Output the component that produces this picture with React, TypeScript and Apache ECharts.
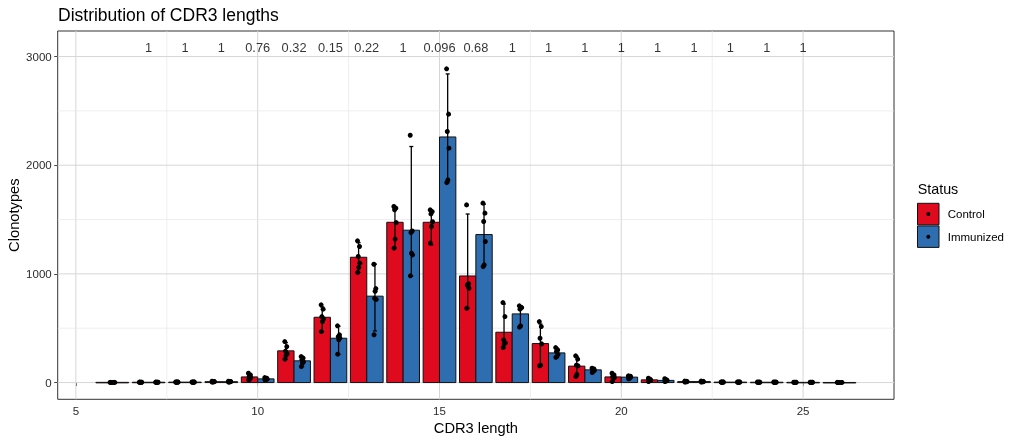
import React, { useEffect, useRef } from "react";
import * as echarts from "echarts";

// ---- data ----
const lengths = [6, 7, 8, 9, 10, 11, 12, 13, 14, 15, 16, 17, 18, 19, 20, 21, 22, 23, 24, 25, 26];
const controlMean: (number | null)[] = [2, 3, 4, 8, 52, 292, 601, 1153, 1475, 1475, 981, 463, 359, 151, 52, 25, 9, 4, 3, 2, null];
const immunizedMean: (number | null)[] = [null, 3, 4, 8, 34, 200, 408, 795, 1402, 2260, 1362, 632, 273, 117, 50, 20, 9, 4, 3, 2, 1];
const controlErrLow: (number | null)[] = [1, 2, 2, 4, 25, 215, 469, 1013, 1240, 1267, 686, 322, 154, 55, 9, 9, 5, 2, 1, 1, null];
const controlErrHigh: (number | null)[] = [3, 4, 5, 11, 80, 367, 696, 1288, 1615, 1575, 1551, 723, 539, 241, 82, 37, 12, 6, 4, 3, null];
const immunizedErrLow: (number | null)[] = [null, 2, 2, 4, 24, 147, 261, 475, 980, 1840, 1067, 510, 232, 92, 35, 10, 5, 2, 1, 1, 0];
const immunizedErrHigh: (number | null)[] = [null, 4, 5, 11, 44, 240, 518, 1090, 2172, 2840, 1642, 702, 318, 132, 60, 25, 12, 6, 4, 3, 2];
const controlPts: number[][] = [
  [2, 2, 1, 1, 1, 1],
  [4, 3, 3, 3, 2, 2],
  [6, 5, 4, 4, 3, 2],
  [12, 10, 8, 8, 6, 4],
  [86, 70, 55, 45, 30, 25],
  [377, 331, 290, 265, 250, 215],
  [715, 675, 607, 586, 562, 469],
  [1304, 1252, 1160, 1099, 1059, 1013],
  [1620, 1605, 1590, 1472, 1320, 1237],
  [1589, 1573, 1552, 1480, 1436, 1283],
  [1635, 910, 898, 868, 890, 684],
  [736, 607, 393, 365, 356, 322],
  [561, 515, 408, 356, 160, 154],
  [246, 215, 160, 154, 76, 55],
  [86, 70, 55, 46, 40, 9],
  [40, 30, 25, 20, 20, 9],
  [14, 11, 9, 8, 7, 5],
  [6, 5, 4, 4, 3, 2],
  [5, 4, 3, 3, 2, 1],
  [3, 3, 2, 2, 1, 1],
  [],
];
const immunizedPts: number[][] = [
  [],
  [4, 3, 3, 3, 2, 2],
  [6, 5, 4, 4, 3, 2],
  [12, 10, 8, 8, 6, 4],
  [46, 40, 35, 31, 28, 24],
  [239, 225, 209, 190, 178, 147],
  [522, 439, 423, 410, 393, 261],
  [1089, 865, 775, 765, 840, 440],
  [2276, 1395, 1380, 1175, 1190, 982],
  [2887, 2470, 2310, 2157, 1865, 1840],
  [1651, 1559, 1482, 1298, 1083, 1067],
  [706, 690, 675, 690, 522, 510],
  [322, 300, 285, 260, 239, 232],
  [132, 125, 118, 110, 115, 92],
  [62, 58, 55, 50, 40, 35],
  [35, 25, 20, 18, 15, 10],
  [14, 11, 9, 8, 7, 5],
  [6, 5, 4, 4, 3, 2],
  [5, 4, 3, 3, 2, 1],
  [3, 3, 2, 2, 1, 1],
  [2, 1, 1, 1, 1, 0],
];
const jitterX = [-0.03, 0.025, -0.01, 0.035, 0.005, -0.025];
const pLengths = [7, 8, 9, 10, 11, 12, 13, 14, 15, 16, 17, 18, 19, 20, 21, 22, 23, 24, 25];
const pLabels = ["1", "1", "1", "0.76", "0.32", "0.15", "0.22", "1", "0.096", "0.68", "1", "1", "1", "1", "1", "1", "1", "1", "1"];
const pLabelY = 3085;
const xTicks = [5, 10, 15, 20, 25];
const yTicks = [0, 1000, 2000, 3000];
const xMinor = [7.5, 12.5, 17.5, 22.5];
const yMinor = [500, 1500, 2500];
const statusNames = ["Control", "Immunized"];
const statusColors = ["#E00A1E", "#2E6DB0"];

const X_MIN = 4.5, X_MAX = 27.5, Y_MIN = -154, Y_MAX = 3235;
const FONT = "'Liberation Sans', Arial, Helvetica, sans-serif";

function buildRows() {
  const bars: any[] = [];
  const pts: any[] = [];
  lengths.forEach((len, i) => {
    const groups = [
      { m: controlMean[i], lo: controlErrLow[i], hi: controlErrHigh[i], p: controlPts[i], g: 0 },
      { m: immunizedMean[i], lo: immunizedErrLow[i], hi: immunizedErrHigh[i], p: immunizedPts[i], g: 1 },
    ].filter((d) => d.m !== null);
    const w = 0.9 / groups.length;
    groups.forEach((d, k) => {
      const xc = len - 0.45 + w * (k + 0.5);
      bars.push([xc, d.m, d.lo, d.hi, w, d.g]);
      d.p.forEach((v, j) => pts.push([xc + jitterX[j % jitterX.length] * (w / 0.45), v]));
    });
  });
  return { bars, pts };
}

export default function App() {
  const ref = useRef<HTMLDivElement>(null);
  useEffect(() => {
    if (!ref.current) return;
    const chart = echarts.init(ref.current, undefined, { renderer: "svg" });
    const { bars, pts } = buildRows();
    const gridRows = [
      ...xTicks.map((v) => [v, 0, 1]),
      ...xMinor.map((v) => [v, 0, 0]),
      ...yTicks.map((v) => [v, 1, 1]),
      ...yMinor.map((v) => [v, 1, 0]),
    ];
    const option: any = {
      animation: false,
      textStyle: { fontFamily: FONT },
      grid: {
        left: 57.7, right: 125, top: 31, bottom: 43.7,
        outerBoundsMode: "none", containLabel: false,
        show: true, borderColor: "#333333", borderWidth: 1, backgroundColor: "#ffffff",
      },
      xAxis: {
        type: "value", min: X_MIN, max: X_MAX,
        name: "CDR3 length", nameLocation: "middle", nameGap: 21, nameMoveOverlap: false,
        nameTextStyle: { fontSize: 14.7, color: "#000", fontFamily: FONT },
        axisLine: { show: false },
        axisTick: { show: true, length: 3.5, customValues: xTicks, lineStyle: { color: "#444" } },
        axisLabel: { customValues: xTicks, fontSize: 11.5, color: "#2b2b2b", margin: 5.5, fontFamily: FONT, formatter: (v: number) => String(v) },
        splitLine: { show: false },
      },
      yAxis: {
        type: "value", min: Y_MIN, max: Y_MAX,
        name: "Clonotypes", nameLocation: "middle", nameGap: 36, nameRotate: 90, nameMoveOverlap: false,
        nameTextStyle: { fontSize: 14.7, color: "#000", fontFamily: FONT },
        axisLine: { show: false },
        axisTick: { show: true, length: 3.5, customValues: yTicks, lineStyle: { color: "#444" } },
        axisLabel: { customValues: yTicks, fontSize: 11.5, color: "#2b2b2b", margin: 6, fontFamily: FONT, formatter: (v: number) => String(v) },
        splitLine: { show: false },
      },
      graphic: [
        { type: "text", left: 58, top: 6, style: { text: "Distribution of CDR3 lengths", fontSize: 17.5, fill: "#000", fontFamily: FONT } },
        { type: "text", x: 917.7, y: 188.7, style: { text: "Status", fontSize: 14.3, fill: "#000", fontFamily: FONT, verticalAlign: "middle" } },
        ...statusNames.flatMap((name, k) => {
          const top = 203.3 + k * 22.6;
          return [
            { type: "rect", shape: { x: 917.5, y: top, width: 21.5, height: 21.5 }, style: { fill: statusColors[k], stroke: "#111", lineWidth: 1 } },
            { type: "circle", shape: { cx: 928.3, cy: top + 10.8, r: 2 }, style: { fill: "#000" } },
            { type: "text", x: 947.7, y: top + 11, style: { text: name, fontSize: 11.5, fill: "#000", fontFamily: FONT, verticalAlign: "middle" } },
          ];
        }),
      ],
      series: [
        {
          type: "custom", name: "grid", z: 1, silent: true,
          data: gridRows,
          renderItem: (params: any, api: any) => {
            const v = api.value(0), isY = api.value(1), major = api.value(2);
            const cs = params.coordSys;
            let shape;
            if (isY) {
              const y = api.coord([X_MIN, v])[1];
              shape = { x1: cs.x, y1: y, x2: cs.x + cs.width, y2: y };
            } else {
              const x = api.coord([v, 0])[0];
              shape = { x1: x, y1: cs.y, x2: x, y2: cs.y + cs.height };
            }
            return { type: "line", shape, style: { stroke: major ? "#D6D6D6" : "#E6E6E6", lineWidth: major ? 1 : 0.7 } };
          },
          encode: { x: 0 },
        },
        {
          type: "custom", name: "bars", z: 2, silent: true,
          data: bars,
          encode: { x: 0, y: 1 },
          renderItem: (params: any, api: any) => {
            const xc = api.value(0), m = api.value(1), w = api.value(4), g = api.value(5);
            const p1 = api.coord([xc - w / 2, m]);
            const p2 = api.coord([xc + w / 2, 0]);
            return {
              type: "rect",
              shape: { x: p1[0], y: p1[1], width: p2[0] - p1[0], height: Math.max(p2[1] - p1[1], 0.5) },
              style: { fill: statusColors[g], stroke: "#111", lineWidth: 1 },
            };
          },
        },
        {
          type: "custom", name: "errorbars", z: 3, silent: true,
          data: bars,
          encode: { x: 0, y: 1 },
          renderItem: (params: any, api: any) => {
            const xc = api.value(0), lo = api.value(2), hi = api.value(3);
            const top = api.coord([xc, hi]);
            const bot = api.coord([xc, lo]);
            const st = { stroke: "#000", lineWidth: 1.3 };
            return {
              type: "group",
              children: [
                { type: "line", shape: { x1: top[0], y1: top[1], x2: bot[0], y2: bot[1] }, style: st },
                { type: "line", shape: { x1: top[0] - 2, y1: top[1], x2: top[0] + 2, y2: top[1] }, style: st },
                { type: "line", shape: { x1: bot[0] - 2, y1: bot[1], x2: bot[0] + 2, y2: bot[1] }, style: st },
              ],
            };
          },
        },
        {
          type: "scatter", name: "points", z: 4, silent: true,
          data: pts, symbol: "circle", symbolSize: 5,
          itemStyle: { color: "#000", opacity: 1 },
        },
        {
          type: "scatter", name: "pvalues", z: 5, silent: true,
          data: pLengths.map((x, i) => [x, pLabelY, pLabels[i]]),
          symbolSize: 0,
          label: {
            show: true, position: "inside",
            formatter: (p: any) => p.value[2],
            fontSize: 12.8, color: "#000", fontFamily: FONT,
          },
        },
      ],
    };
    chart.setOption(option);
    return () => chart.dispose();
  }, []);
  return <div ref={ref} style={{ position: "fixed", left: 0, top: 0, width: 1019, height: 443 }} />;
}
